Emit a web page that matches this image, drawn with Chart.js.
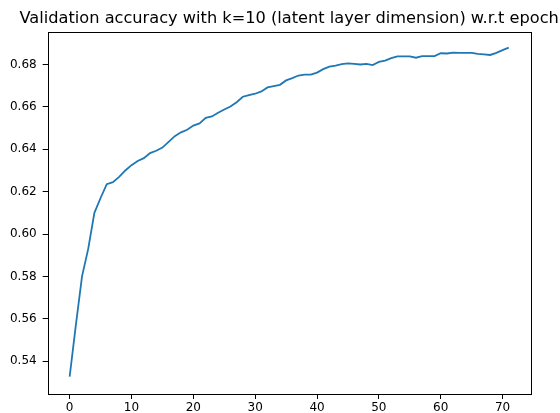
<!DOCTYPE html>
<html>
<head>
<meta charset="utf-8">
<script src="https://cdn.jsdelivr.net/npm/chart.js@4"></script>
<style>
    html, body { margin: 0; padding: 0; background: white; }
    #chart { display: block; }
</style>
</head>
<body>
<canvas id="chart" width="560" height="413"></canvas>
<script>
// values
const epochs = [];
for (let i = 0; i < 72; i++) epochs.push(i); // x axis is just the epoch number

const accuracy = [
    0.5327, 0.557, 0.580, 0.593, 0.610, 0.617, 0.6235, 0.6245, 0.627, 0.630,
    0.6325, 0.6345, 0.6358, 0.6382, 0.6393, 0.6408, 0.6435, 0.6462, 0.648, 0.6492,
    0.6512, 0.6522, 0.6548, 0.6555, 0.6572, 0.6588, 0.6602, 0.6622, 0.6648, 0.6656,
    0.6662, 0.6673, 0.6692, 0.6698, 0.6704, 0.6725, 0.6736, 0.6748, 0.6752, 0.6752,
    0.6762, 0.6778, 0.6790, 0.6795, 0.6802, 0.6805, 0.6803, 0.6800, 0.6803, 0.6797,
    0.6812, 0.6818, 0.6830, 0.6838, 0.6838, 0.6838, 0.6832, 0.6840, 0.6840, 0.6840,
    0.6853, 0.6852, 0.6856, 0.6855, 0.6855, 0.6855, 0.6850, 0.6848, 0.6845, 0.6855,
    0.6868, 0.6880
];

const xTicks = [0, 10, 20, 30, 40, 50, 60, 70];
const yTicks = [0.54, 0.56, 0.58, 0.60, 0.62, 0.64, 0.66, 0.68];

const titleText = "Validation accuracy with k=10 (latent layer dimension) w.r.t epoch";

const points = [];
for (let i = 0; i < epochs.length; i++) {
    points.push({ x: epochs[i], y: accuracy[i] });
}

// matplotlib style box round the plot area (axis borders are switched off)
// and the title centred over the plot area, not over the whole canvas
const frame = {
    id: "frame",
    afterDraw(chart) {
        const a = chart.chartArea;
        const ctx = chart.ctx;
        ctx.save();
        ctx.strokeStyle = "black";
        ctx.lineWidth = 1;
        ctx.strokeRect(Math.round(a.left) + 0.5, Math.round(a.top) + 0.5,
            Math.round(a.right - a.left), Math.round(a.bottom - a.top));

        ctx.fillStyle = "black";
        ctx.font = "16.2px 'DejaVu Sans'";
        ctx.textAlign = "center";
        ctx.textBaseline = "alphabetic";
        ctx.fillText(titleText, (a.left + a.right) / 2, 22.7);
        ctx.restore();
    }
};

const tickFont = { family: "DejaVu Sans", size: 12 };

new Chart(document.getElementById("chart"), {
    type: "line",
    data: {
        datasets: [{
            data: points,
            borderColor: "#1f77b4",
            borderWidth: 1.8,
            pointRadius: 0,
            tension: 0,
            fill: false
        }]
    },
    options: {
        responsive: false,
        animation: false,
        layout: { padding: { left: 0, right: 29.3, top: 32.3, bottom: 0 } },
        plugins: {
            legend: { display: false },
            tooltip: { enabled: false },
            title: { display: false }
        },
        scales: {
            x: {
                type: "linear",
                min: -3.55,
                max: 74.55,
                afterBuildTicks(scale) {
                    scale.ticks = xTicks.map(v => ({ value: v }));
                },
                afterFit(scale) { scale.height = 19; },
                ticks: {
                    color: "black",
                    font: tickFont,
                    padding: 2,
                    maxRotation: 0,
                    callback: v => String(v)
                },
                grid: {
                    drawOnChartArea: false,
                    tickLength: 5,
                    color: "black"
                },
                border: { display: false }
            },
            y: {
                min: 0.5245,
                max: 0.6952,
                afterBuildTicks(scale) {
                    scale.ticks = yTicks.map(v => ({ value: v }));
                },
                afterFit(scale) { scale.width = 47.7; },
                ticks: {
                    color: "black",
                    font: tickFont,
                    padding: 6,
                    callback: v => Number(v).toFixed(2)
                },
                grid: {
                    drawOnChartArea: false,
                    tickLength: 5,
                    color: "black"
                },
                border: { display: false }
            }
        }
    },
    plugins: [frame]
});
</script>
</body>
</html>
